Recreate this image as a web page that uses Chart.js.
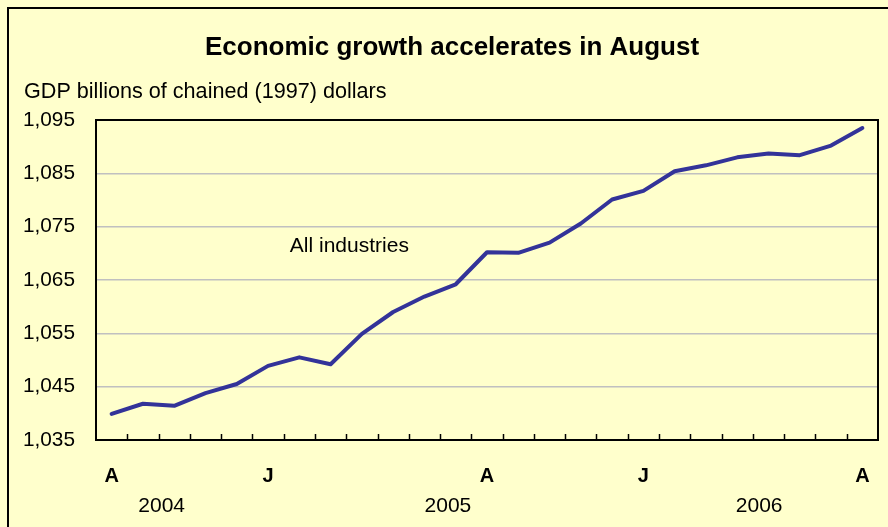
<!DOCTYPE html>
<html>
<head>
<meta charset="utf-8">
<title>Economic growth accelerates in August</title>
<script src="https://cdn.jsdelivr.net/npm/chart.js@4.4.0/dist/chart.umd.min.js"></script>
<style>
  html, body { margin: 0; padding: 0; background: #FFFFCC; overflow: hidden; }
  canvas { display: block; }
</style>
</head>
<body>
<canvas id="gdp" width="888" height="527"></canvas>
<script>
'use strict';

// ---- Data: monthly GDP, Aug 2004 .. Aug 2006 ----
const MONTHS = [
  'Aug 04','Sep 04','Oct 04','Nov 04','Dec 04',
  'Jan 05','Feb 05','Mar 05','Apr 05','May 05','Jun 05','Jul 05','Aug 05',
  'Sep 05','Oct 05','Nov 05','Dec 05',
  'Jan 06','Feb 06','Mar 06','Apr 06','May 06','Jun 06','Jul 06','Aug 06'
];
const MONTH_TICKS = [
  'A','','','','',
  'J','','','','','','','A',
  '','','','',
  'J','','','','','','','A'
];
const GDP_VALUES = [
  1039.9, 1041.8, 1041.4, 1043.8, 1045.5,
  1048.9, 1050.5, 1049.2, 1054.9, 1059.0, 1061.9, 1064.2, 1070.2,
  1070.1, 1072.0, 1075.6, 1080.1,
  1081.7, 1085.4, 1086.5, 1088.0, 1088.7, 1088.4, 1090.2, 1093.5
];
const YEARS = ['2004', '2005', '2006'];
const Y_MIN = 1035, Y_MAX = 1095, Y_STEP = 10;

const FONT = '"Liberation Sans", Arial, Helvetica, sans-serif';
const LINE_COLOR = '#333399';

// ---- Extras: page frame, titles, plot frame, inner ticks, annotation, years ----
const extrasPlugin = {
  id: 'extras',
  beforeDraw(chart) {
    const { ctx } = chart;
    ctx.save();
    // outer frame: only left and top edges are in view
    ctx.strokeStyle = '#000';
    ctx.lineWidth = 2;
    ctx.beginPath();
    ctx.moveTo(8, chart.height);
    ctx.lineTo(8, 8);
    ctx.lineTo(chart.width, 8);
    ctx.stroke();
    ctx.restore();
  },
  beforeDatasetsDraw(chart) {
    const { ctx, chartArea: a, scales: { x } } = chart;
    ctx.save();
    // inner tick marks between categories
    ctx.strokeStyle = '#000';
    ctx.lineWidth = 1.5;
    const half = (x.getPixelForValue(1) - x.getPixelForValue(0)) / 2;
    for (let i = 0; i < MONTHS.length - 1; i++) {
      const px = Math.round(x.getPixelForValue(i) + half) + 0.5;
      ctx.beginPath();
      ctx.moveTo(px, a.bottom);
      ctx.lineTo(px, a.bottom - 6);
      ctx.stroke();
    }
    ctx.restore();
  },
  afterDraw(chart) {
    const { ctx, chartArea: a, scales: { x, y } } = chart;
    ctx.save();
    // plot frame
    ctx.strokeStyle = '#000';
    ctx.lineWidth = 2;
    ctx.strokeRect(a.left, a.top, a.right - a.left, a.bottom - a.top);

    ctx.fillStyle = '#000';
    ctx.textBaseline = 'alphabetic';
    // title
    ctx.font = 'bold 26px ' + FONT;
    ctx.textAlign = 'center';
    ctx.fillText('Economic growth accelerates in August', 452, 55);
    // subtitle / axis unit
    ctx.font = '21.6px ' + FONT;
    ctx.textAlign = 'left';
    ctx.fillText('GDP billions of chained (1997) dollars', 24, 98);

    // series annotation
    ctx.font = '21px ' + FONT;
    ctx.textAlign = 'center';
    ctx.fillText('All industries', x.getPixelForValue(7.6), y.getPixelForValue(1070.2));

    // year row under the month letters
    ctx.font = '21px ' + FONT;
    const yearAt = [1.6, 10.75, 20.7];
    YEARS.forEach((yr, i) => {
      ctx.fillText(yr, x.getPixelForValue(yearAt[i]), 512);
    });
    ctx.restore();
  }
};

new Chart(document.getElementById('gdp'), {
  type: 'line',
  data: {
    labels: MONTHS,
    datasets: [{
      label: 'All industries',
      data: GDP_VALUES,
      borderColor: LINE_COLOR,
      borderWidth: 4,
      pointRadius: 0,
      tension: 0,
      fill: false,
      borderJoinStyle: 'round',
      borderCapStyle: 'round',
    }]
  },
  options: {
    responsive: false,
    animation: false,
    layout: { padding: { top: 120, right: 10, left: 0, bottom: 0 } },
    plugins: {
      legend: { display: false },
      tooltip: { enabled: false },
      title: { display: false },
    },
    scales: {
      x: {
        type: 'category',
        offset: true,
        grid: { display: false, drawTicks: false },
        border: { display: false },
        afterFit: (s) => { s.height = 87; s.paddingLeft = 0; s.paddingRight = 0; },
        ticks: {
          autoSkip: false,
          maxRotation: 0,
          padding: 24,
          color: '#000',
          font: { family: FONT, size: 20, weight: 'bold' },
          callback: (v, i) => MONTH_TICKS[i],
        },
      },
      y: {
        min: Y_MIN,
        max: Y_MAX,
        afterFit: (s) => { s.width = 96; },
        grid: { color: '#C0C0C0', lineWidth: 1.5, drawTicks: false },
        border: { display: false },
        ticks: {
          stepSize: Y_STEP,
          padding: 21,
          color: '#000',
          font: { family: FONT, size: 20.8 },
          callback: (v) => v.toLocaleString('en-US'),
        },
      },
    },
  },
  plugins: [extrasPlugin],
});
</script>
</body>
</html>
